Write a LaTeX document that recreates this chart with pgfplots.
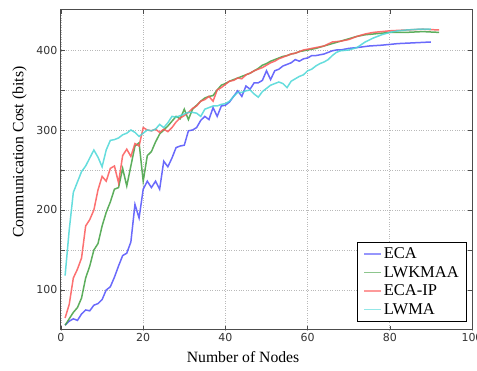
\documentclass[border=0pt]{standalone}
\usepackage{fontspec}
\setmainfont{Liberation Serif}
\newfontfamily\tickfont{DejaVu Sans}
\usepackage{pgfplots}
\pgfplotsset{compat=1.18}
\definecolor{cblue}{RGB}{80,80,250}
\definecolor{cgreen}{RGB}{65,160,65}
\definecolor{cred}{RGB}{252,88,88}
\definecolor{ccyan}{RGB}{75,215,215}
\begin{document}
\begin{tikzpicture}
\begin{axis}[
  scale only axis, width=411pt, height=320pt,
  xmin=0, xmax=100, ymin=50, ymax=450,
  xtick={0,20,40,60,80,100},
  ytick={100,200,300,400}, minor ytick={150,250,350},
  grid=both,
  major grid style={gray!55, dotted, line width=0.9pt},
  minor grid style={gray!55, dotted, line width=0.9pt},
  axis line style={gray!60!black, line width=1pt},
  tick style={gray!60!black, line width=0.6pt},
  major tick length=4pt, minor tick length=4pt,
  tick align=inside,
  /pgf/number format/assume math mode=true,
  ticklabel style={font=\tickfont\fontsize{11}{13}\selectfont, text=black!80},
  xlabel={Number of Nodes},
  ylabel={Communication Cost (bits)},
  label style={font=\fontsize{15.7}{18}\selectfont},
  xlabel style={at={(ticklabel cs:0.443)}},
  ylabel style={at={(ticklabel cs:0.556)}},
  xlabel shift=3pt, ylabel shift=3pt,
  legend style={at={(rel axis cs:0.988,0.025)}, anchor=south east,
    font=\fontsize{16.5}{18}\selectfont, draw=black, line width=0.8pt,
    row sep=2pt, inner xsep=6pt, inner ysep=4pt},
  legend cell align=left,
  legend image post style={opacity=0.6, line width=1.5pt},
  every axis plot/.append style={line width=1.5pt, opacity=0.85, no markers},
]
\coordinate (bl) at (rel axis cs:0,0);
\coordinate (tr) at (rel axis cs:1,1);
% ECA
\addplot[cblue] coordinates {
(1,56)(2,61)(3,64)(4,62)(5,70)(6,75)(7,74)(8,81)(9,83)(10,88)(11,100)(12,104)(13,116)(14,130)(15,143)(16,146)(17,160)(18,207)(19,190)(20,226)(21,236)(22,228)(23,236)(24,226)(25,261)(26,254)(27,265)(28,278)(29,280)(30,281)(31,299)(32,300)(33,303)(34,312)(35,317)(36,313)(37,328)(38,317)(39,330)(40,331)(41,335)(42,342)(43,349)(44,342)(45,355)(46,351)(47,359)(48,359)(49,362)(50,374)(51,363)(52,374)(53,376)(54,380)(55,382)(56,384)(57,388)(58,386)(59,389)(60,390)(61,393)(62,393)(63,394)(64,395)(65,397)(66,399)(67,400)(68,400)(70,402)(72,403)(75,405)(78,406)(82,408)(86,409)(90,410)
};
\addlegendentry{ECA}
% LWKMAA
\addplot[cgreen] coordinates {
(1,56)(2,64)(3,72)(4,78)(5,90)(6,115)(7,130)(8,150)(9,158)(10,180)(11,197)(12,210)(13,226)(14,228)(15,252)(16,230)(17,255)(18,280)(19,284)(20,236)(21,268)(22,273)(23,285)(24,295)(25,300)(26,305)(27,311)(28,317)(29,314)(30,326)(31,313)(32,326)(33,331)(34,336)(35,340)(36,342)(37,343)(38,350)(39,356)(40,358)(41,361)(42,363)(43,365)(44,367)(45,369)(46,371)(47,374)(48,377)(49,381)(50,383)(51,386)(52,388)(53,390)(54,392)(55,393)(56,395)(57,396)(58,398)(59,399)(60,400)(62,402)(64,405)(66,408)(68,411)(70,414)(72,417)(74,419)(76,420)(78,421)(80,422)(84,422)(88,423)(92,422)
};
\addlegendentry{LWKMAA}
% ECA-IP
\addplot[cred] coordinates {
(1,65)(2,82)(3,115)(4,126)(5,140)(6,180)(7,188)(8,200)(9,225)(10,242)(11,236)(12,252)(13,255)(14,234)(15,268)(16,276)(17,267)(18,283)(19,280)(20,303)(21,300)(22,299)(23,301)(24,297)(25,301)(26,298)(27,303)(28,310)(29,315)(30,318)(31,322)(32,327)(33,330)(34,336)(35,338)(36,342)(37,336)(38,350)(39,353)(40,357)(41,361)(42,362)(43,365)(44,364)(45,369)(46,371)(47,374)(48,376)(49,378)(50,381)(51,384)(52,386)(53,389)(54,391)(55,393)(56,395)(57,396)(58,398)(59,400)(60,401)(62,403)(64,405)(66,410)(68,411)(70,413)(72,417)(74,420)(76,422)(78,423)(80,424)(84,425)(88,426)(92,425)
};
\addlegendentry{ECA-IP}
% LWMA
\addplot[ccyan] coordinates {
(1,118)(2,175)(3,222)(4,235)(5,248)(6,255)(7,265)(8,275)(9,266)(10,254)(11,275)(12,287)(13,288)(14,290)(15,294)(16,296)(17,300)(18,297)(19,292)(20,296)(21,300)(22,299)(23,301)(24,307)(25,303)(26,309)(27,317)(28,316)(29,318)(30,320)(31,322)(32,322)(33,321)(34,317)(35,326)(36,328)(37,330)(38,330)(39,332)(40,333)(41,336)(42,342)(43,347)(44,347)(45,349)(46,350)(47,345)(48,341)(49,348)(50,352)(51,356)(52,358)(53,360)(54,358)(55,353)(56,361)(57,364)(58,367)(59,369)(60,374)(61,376)(62,380)(63,383)(64,385)(65,388)(66,393)(67,397)(68,399)(70,400)(72,403)(74,410)(76,415)(78,419)(80,422)(82,424)(84,425)(87,426)(90,426)
};
\addlegendentry{LWMA}
\end{axis}
\pgfresetboundingbox
\path ([shift={(-61pt,-41pt)}]bl) rectangle ([shift={(5pt,10pt)}]tr);
\end{tikzpicture}
\end{document}
